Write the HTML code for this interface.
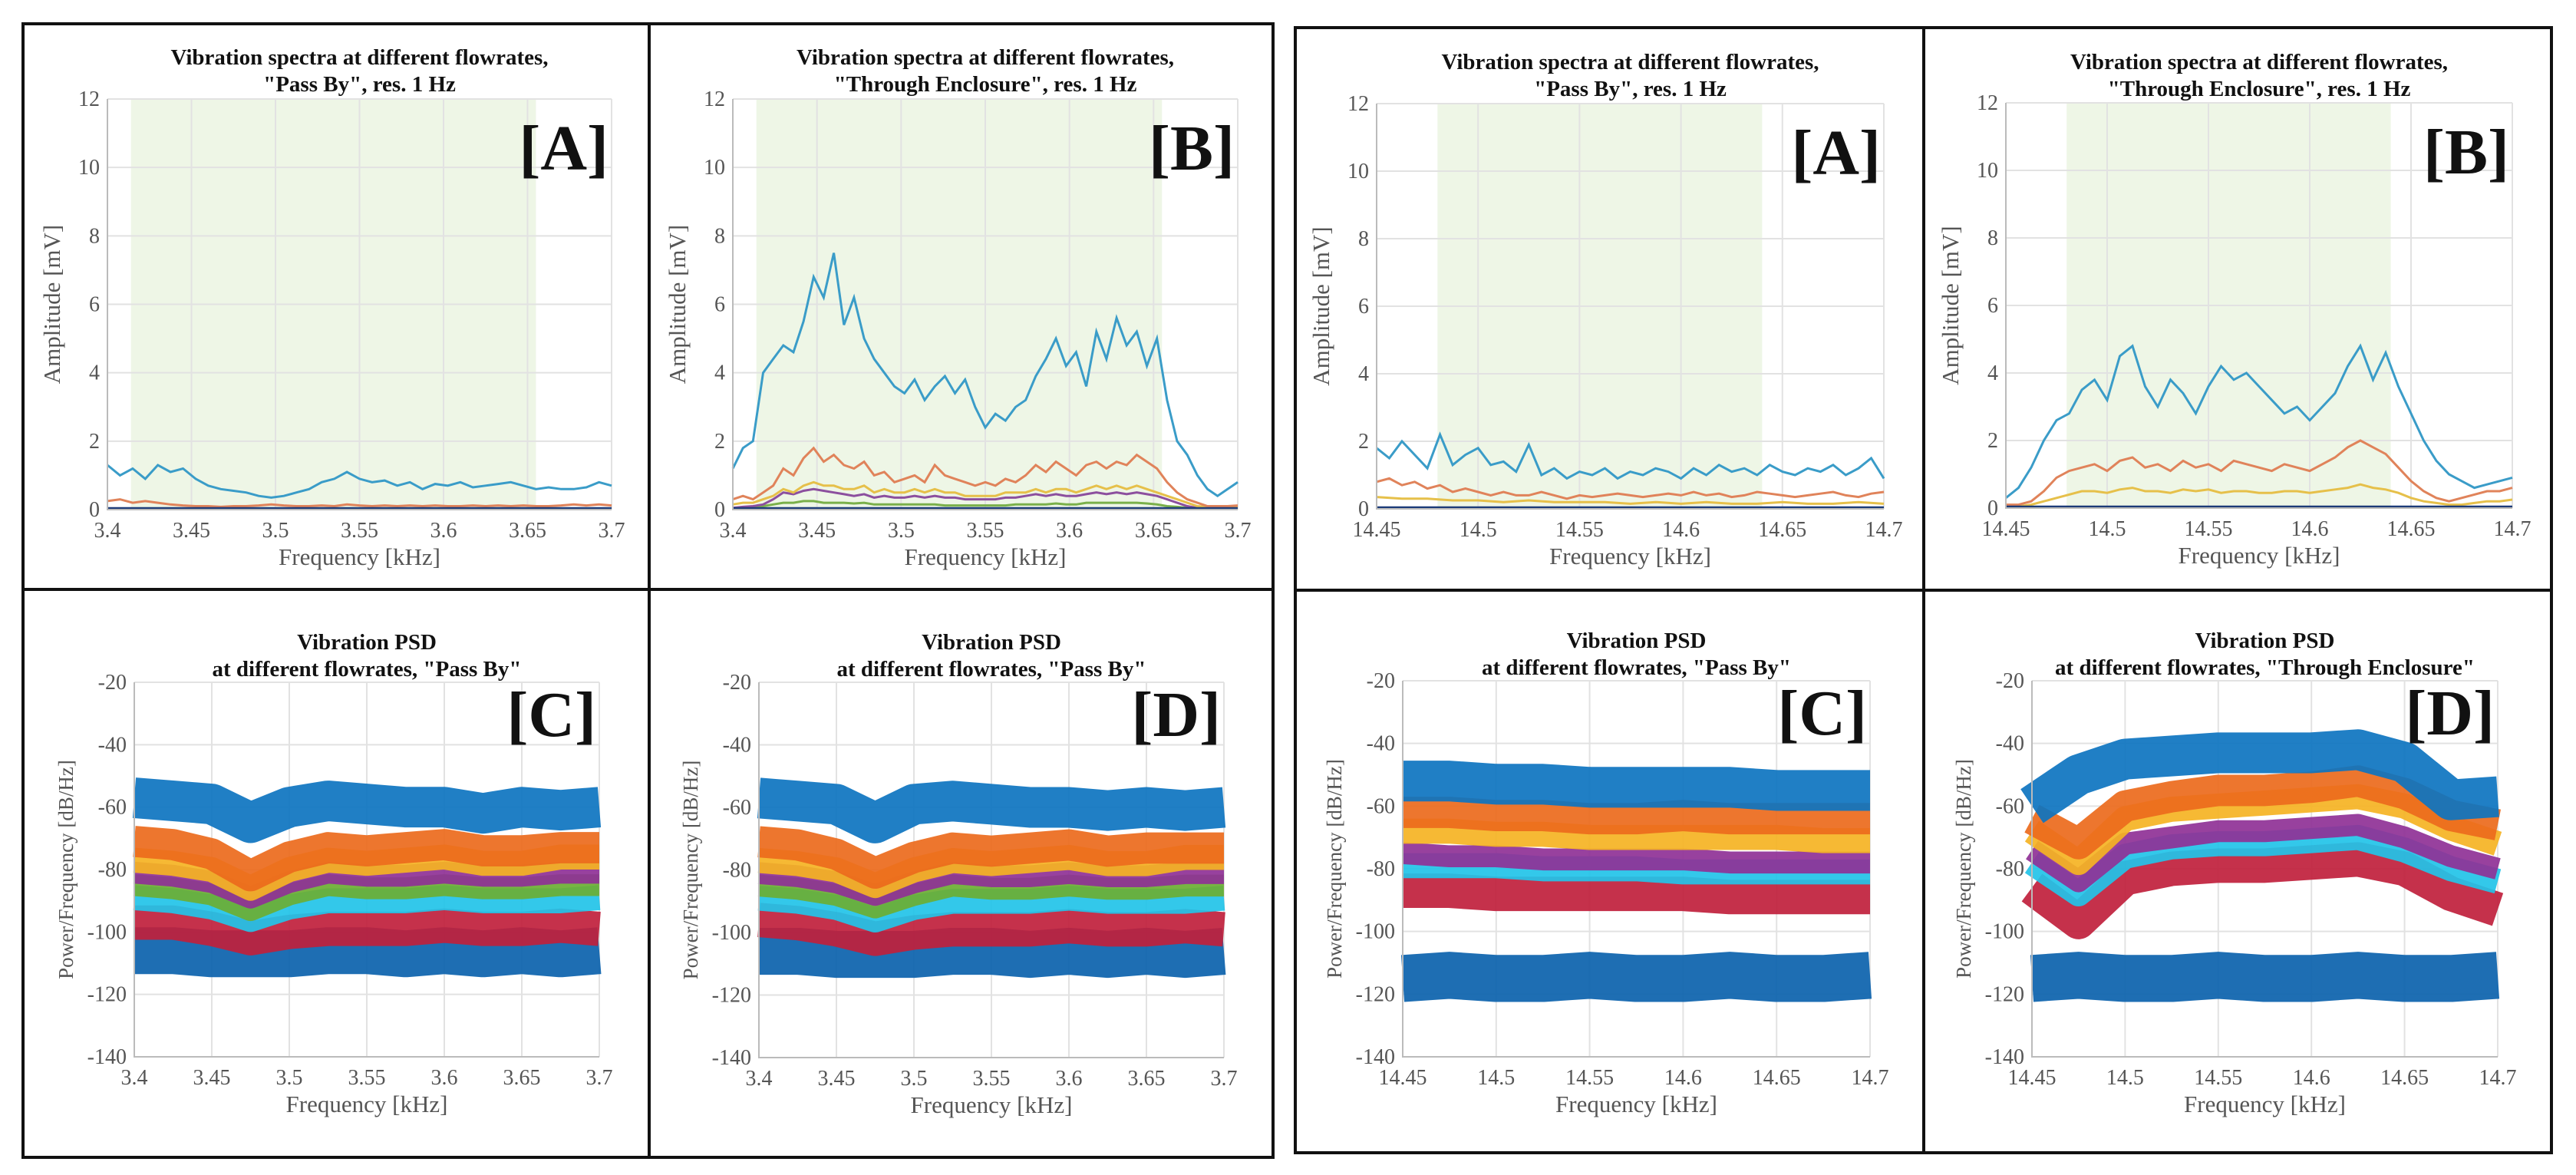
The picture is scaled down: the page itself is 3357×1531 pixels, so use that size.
<!DOCTYPE html>
<html><head><meta charset="utf-8">
<style>
html,body{margin:0;padding:0;background:#fff;}
svg{display:block;}
svg text{font-family:"Liberation Serif","DejaVu Serif",serif;}
</style></head>
<body>
<svg id="fig" width="3357" height="1531" viewBox="0 0 3357 1531" xmlns="http://www.w3.org/2000/svg" font-family="Liberation Serif, serif">
  <rect x="0" y="0" width="3357" height="1531" fill="#fff"/>
  <g id="frames" fill="none" stroke="#111" stroke-width="4">
    <rect x="30" y="31" width="1629" height="1477"/>
    <line x1="846" y1="31" x2="846" y2="1508"/>
    <line x1="30" y1="768" x2="1659" y2="768"/>
    <rect x="1688" y="36" width="1637" height="1466"/>
    <line x1="2507" y1="36" x2="2507" y2="1502"/>
    <line x1="1688" y1="769" x2="3325" y2="769"/>
  </g>
</svg>
<script>
// ---------- DATA ----------
const ampTicks = [0, 2, 4, 6, 8, 10, 12];
const psdTicks = [-140, -120, -100, -80, -60, -40, -20];
const lowFreqTicks = ["3.4", "3.45", "3.5", "3.55", "3.6", "3.65", "3.7"];
const highFreqTicks = ["14.45", "14.5", "14.55", "14.6", "14.65", "14.7"];

// Panel A (3.4-3.7 kHz, Pass By)
const a1Blue = [1.3,1.0,1.2,0.9,1.3,1.1,1.2,0.9,0.7,0.6,0.55,0.5,0.4,0.35,0.4,0.5,0.6,0.8,0.9,1.1,0.9,0.8,0.85,0.7,0.8,0.6,0.75,0.7,0.8,0.65,0.7,0.75,0.8,0.7,0.6,0.65,0.6,0.6,0.65,0.8,0.7];
const a1Orange = [0.25,0.3,0.2,0.25,0.2,0.15,0.12,0.1,0.1,0.08,0.1,0.1,0.12,0.15,0.12,0.1,0.1,0.12,0.1,0.15,0.12,0.1,0.12,0.1,0.12,0.1,0.12,0.1,0.1,0.12,0.1,0.12,0.1,0.12,0.1,0.1,0.12,0.15,0.12,0.15,0.12];
const a1Base = [0.04,0.04,0.04,0.04,0.04,0.04,0.04,0.04,0.04,0.04,0.04];

// Panel B (3.4-3.7 kHz, Through Enclosure)
const b1Blue = [1.2,1.8,2.0,4.0,4.4,4.8,4.6,5.5,6.8,6.2,7.5,5.4,6.2,5.0,4.4,4.0,3.6,3.4,3.8,3.2,3.6,3.9,3.4,3.8,3.0,2.4,2.8,2.6,3.0,3.2,3.9,4.4,5.0,4.2,4.6,3.6,5.2,4.4,5.6,4.8,5.2,4.2,5.0,3.2,2.0,1.6,1.0,0.6,0.4,0.6,0.8];
const b1Orange = [0.3,0.4,0.3,0.5,0.7,1.2,1.0,1.5,1.8,1.4,1.6,1.3,1.2,1.4,1.0,1.1,0.8,0.9,1.0,0.8,1.3,1.0,0.9,0.8,0.7,0.8,0.7,0.9,0.8,1.0,1.3,1.1,1.4,1.2,1.0,1.3,1.4,1.2,1.4,1.3,1.6,1.4,1.2,0.8,0.5,0.3,0.2,0.1,0.1,0.1,0.12];
const b1Yellow = [0.15,0.2,0.2,0.3,0.4,0.6,0.5,0.7,0.8,0.7,0.7,0.6,0.6,0.7,0.5,0.6,0.5,0.5,0.6,0.5,0.6,0.5,0.5,0.4,0.4,0.4,0.4,0.5,0.5,0.5,0.6,0.5,0.6,0.6,0.5,0.6,0.7,0.6,0.7,0.6,0.7,0.6,0.5,0.4,0.3,0.2,0.1,0.08,0.08,0.08,0.08];
const b1Purple = [0.05,0.08,0.1,0.15,0.3,0.5,0.45,0.55,0.6,0.55,0.5,0.45,0.4,0.45,0.35,0.4,0.35,0.35,0.4,0.35,0.4,0.35,0.35,0.3,0.3,0.3,0.3,0.35,0.35,0.4,0.45,0.4,0.45,0.4,0.4,0.45,0.5,0.45,0.5,0.45,0.5,0.45,0.4,0.3,0.2,0.1,0.05,0.04,0.04,0.04,0.04];
const b1Green = [0.05,0.05,0.08,0.1,0.15,0.2,0.2,0.25,0.25,0.2,0.2,0.2,0.18,0.2,0.15,0.15,0.15,0.15,0.15,0.15,0.15,0.12,0.12,0.12,0.12,0.12,0.12,0.12,0.15,0.15,0.15,0.15,0.18,0.15,0.15,0.2,0.2,0.2,0.2,0.2,0.2,0.18,0.15,0.1,0.08,0.05,0.04,0.04,0.04,0.04,0.04];

// Panel A (14.45-14.7 kHz, Pass By)
const a2Blue = [1.8,1.5,2.0,1.6,1.2,2.2,1.3,1.6,1.8,1.3,1.4,1.1,1.9,1.0,1.2,0.9,1.1,1.0,1.2,0.9,1.1,1.0,1.2,1.1,0.9,1.2,1.0,1.3,1.1,1.2,1.0,1.3,1.1,1.0,1.2,1.1,1.3,1.0,1.2,1.5,0.9];
const a2Orange = [0.8,0.9,0.7,0.8,0.6,0.7,0.5,0.6,0.5,0.4,0.5,0.4,0.4,0.5,0.4,0.3,0.4,0.35,0.4,0.45,0.4,0.35,0.4,0.45,0.4,0.5,0.4,0.45,0.35,0.4,0.5,0.45,0.4,0.35,0.4,0.45,0.5,0.4,0.35,0.45,0.5];
const a2Yellow = [0.35,0.3,0.3,0.25,0.25,0.2,0.25,0.2,0.2,0.2,0.15,0.2,0.15,0.2,0.15,0.15,0.2,0.15,0.15,0.2,0.15];

// Panel B (14.45-14.7 kHz, Through Enclosure)
const b2Blue = [0.3,0.6,1.2,2.0,2.6,2.8,3.5,3.8,3.2,4.5,4.8,3.6,3.0,3.8,3.4,2.8,3.6,4.2,3.8,4.0,3.6,3.2,2.8,3.0,2.6,3.0,3.4,4.2,4.8,3.8,4.6,3.6,2.8,2.0,1.4,1.0,0.8,0.6,0.7,0.8,0.9];
const b2Orange = [0.1,0.1,0.2,0.5,0.9,1.1,1.2,1.3,1.1,1.4,1.5,1.2,1.3,1.1,1.4,1.2,1.3,1.1,1.4,1.3,1.2,1.1,1.3,1.2,1.1,1.3,1.5,1.8,2.0,1.8,1.6,1.2,0.8,0.5,0.3,0.2,0.3,0.4,0.5,0.5,0.6];
const b2Yellow = [0.05,0.05,0.1,0.2,0.3,0.4,0.5,0.5,0.45,0.55,0.6,0.5,0.5,0.45,0.55,0.5,0.55,0.45,0.5,0.5,0.45,0.45,0.5,0.5,0.45,0.5,0.55,0.6,0.7,0.6,0.55,0.45,0.3,0.2,0.15,0.1,0.1,0.15,0.2,0.2,0.25];

// PSD panel C (3.4-3.7 kHz), 13 points each
const c1BlueTop = [-57,-58,-59,-65,-60,-58,-59,-60,-60,-62,-60,-61,-60];
const c1Orange = [-71,-72,-75,-82,-76,-73,-74,-73,-72,-74,-74,-73,-73];
const c1Yellow = [-77,-78,-80,-86,-80,-77,-78,-77,-76,-78,-78,-76,-76];
const c1Purple = [-81,-82,-84,-89,-84,-81,-82,-82,-81,-82,-82,-81,-81];
const c1Green = [-85,-86,-88,-93,-88,-85,-86,-86,-85,-86,-86,-85,-85];
const c1Cyan = [-89,-90,-92,-96,-92,-90,-90,-90,-89,-90,-90,-90,-89];
const c1Red = [-97,-97,-99,-102,-100,-99,-99,-99,-98,-99,-99,-98,-99];
const c1BlueLow = [-106,-106,-107,-107,-107,-106,-106,-107,-106,-107,-106,-107,-106];
// PSD panel D (3.4-3.7 kHz)
const d1BlueTop = [-57,-58,-59,-65,-59,-58,-59,-60,-60,-61,-60,-61,-60];
const d1Orange = [-71,-72,-75,-81,-76,-73,-74,-73,-72,-74,-73,-73,-73];
const d1Yellow = [-77,-78,-80,-85,-80,-77,-78,-77,-76,-78,-78,-76,-76];
const d1Purple = [-81,-82,-84,-88,-84,-81,-82,-82,-81,-82,-82,-81,-81];
const d1Green = [-85,-86,-88,-92,-88,-85,-86,-86,-85,-86,-86,-85,-85];
const d1Cyan = [-89,-90,-92,-96,-92,-90,-90,-90,-89,-90,-90,-90,-89];
const d1Red = [-96,-97,-99,-102,-100,-99,-99,-99,-98,-99,-99,-98,-99];
const d1BlueLow = [-106,-106,-107,-107,-107,-106,-106,-107,-106,-107,-106,-107,-106];
// PSD panel C (14.45-14.7 kHz), 11 points
const c2BlueTop = [-52,-52,-53,-53,-54,-54,-54,-54,-55,-55,-55];
const c2Orange = [-62,-62,-63,-63,-64,-64,-63,-64,-64,-64,-64];
const c2Yellow = [-68,-68,-69,-69,-70,-70,-70,-70,-70,-71,-71];
const c2Purple = [-75,-76,-76,-77,-77,-77,-77,-78,-78,-78,-78];
const c2Cyan = [-79,-79,-79,-80,-80,-80,-81,-81,-81,-81,-81];
const c2Red = [-87,-87,-88,-88,-88,-88,-88,-89,-89,-89,-89];
const c2BlueLow = [-115,-114,-115,-115,-114,-115,-115,-114,-115,-115,-114];
// PSD panel D (14.45-14.7 kHz), 11 points
const d2BlueTop = [-60,-50,-45,-44,-43,-43,-43,-42,-46,-58,-57];
const d2Orange = [-64,-72,-60,-57,-55,-55,-54,-52,-56,-63,-66];
const d2Yellow = [-68,-78,-64,-61,-60,-59,-58,-57,-60,-67,-72];
const d2Purple = [-74,-84,-72,-70,-68,-68,-67,-66,-70,-76,-80];
const d2Cyan = [-78,-88,-76,-73,-72,-72,-71,-70,-74,-80,-84];
const d2Red = [-86,-97,-83,-80,-79,-79,-78,-77,-80,-88,-93];
const d2BlueLow = [-115,-114,-115,-115,-114,-115,-115,-114,-115,-115,-114];

// ---------- DRAWING ----------
const NS = "http://www.w3.org/2000/svg";
const svg = document.getElementById("fig");
const SERIF = "Liberation Serif, DejaVu Serif, serif";
function mk(tag, attrs, parent) {
  const e = document.createElementNS(NS, tag);
  for (const k in attrs) e.setAttribute(k, attrs[k]);
  if (tag === "text") e.setAttribute("font-family", SERIF);
  (parent || svg).appendChild(e);
  return e;
}

function drawPanel(p) {
  const g = mk("g", {});
  
  
  const xs = v => p.x0 + (v - p.xmin) / (p.xmax - p.xmin) * (p.x1 - p.x0);
  const ys = v => p.y1 - (v - p.ymin) / (p.ymax - p.ymin) * (p.y1 - p.y0);
  if (p.band) {
    const r = mk("rect", {x: xs(p.band[0]), y: p.y0, width: xs(p.band[1]) - xs(p.band[0]), height: p.y1 - p.y0, fill: "#eef6e6"}, g);
    
    
  }
  p.yticks.forEach(t => {
    const l = mk("line", {x1: p.x0, x2: p.x1, y1: ys(t), y2: ys(t), stroke: "#e2e2e2", "stroke-width": 2}, g);
    
    
    const tx = mk("text", {x: p.x0 - 10, y: ys(t) + 9, "text-anchor": "end", "font-size": 28, fill: "#555"}, g);
    tx.textContent = t;
    
    
  });
  p.xticks.forEach(s => {
    const v = parseFloat(s);
    const l = mk("line", {x1: xs(v), x2: xs(v), y1: p.y0, y2: p.y1, stroke: "#e2e2e2", "stroke-width": 2}, g);
    
    
    const tx = mk("text", {x: xs(v), y: p.y1 + 36, "text-anchor": "middle", "font-size": 28, fill: "#555"}, g);
    tx.textContent = s;
    
    
  });
  (p.bands || []).forEach(b => {
    const pts = b.vals.map((v, i) => xs(p.xmin + i / (b.vals.length - 1) * (p.xmax - p.xmin)).toFixed(1) + "," + ys(v).toFixed(1)).join(" ");
    const pl = mk("polyline", {points: pts, fill: "none", stroke: b.color, "stroke-width": b.w * (p.y1 - p.y0) / (p.ymax - p.ymin), "stroke-linejoin": "round", opacity: 0.92}, g);
    
    
  });
  (p.series || []).forEach(s => {
    const pts = s.vals.map((v, i) => xs(p.xmin + i / (s.vals.length - 1) * (p.xmax - p.xmin)).toFixed(1) + "," + ys(v).toFixed(1)).join(" ");
    const pl = mk("polyline", {points: pts, fill: "none", stroke: s.color, "stroke-width": s.sw || 3}, g);
    
    
  });
  const ax = mk("path", {d: `M${p.x0},${p.y0} V${p.y1} H${p.x1}`, fill: "none", stroke: "#bbb", "stroke-width": 2}, g);
  
  
  const cx = (p.x0 + p.x1) / 2;
  p.title.forEach((t, i) => {
    const tt = mk("text", {x: cx, y: p.ty + i * 35, "text-anchor": "middle", "font-size": 29, "font-weight": "bold", fill: "#111"}, g);
    tt.textContent = t;
    
    
  });
  const lb = mk("text", {x: p.x1 - 4, y: p.y0 + p.labDy, "text-anchor": "end", "font-size": 84, "font-weight": "bold", fill: "#111"}, g);
  lb.textContent = p.label;
  
  
  const xl = mk("text", {x: cx, y: p.y1 + 72, "text-anchor": "middle", "font-size": 31, fill: "#555"}, g);
  xl.textContent = "Frequency [kHz]";
  
  
  const ylx = p.x0 - p.ylOff, yly = (p.y0 + p.y1) / 2;
  const yl = mk("text", {x: ylx, y: yly, "text-anchor": "middle", "font-size": p.ylSize, fill: "#555", transform: `rotate(-90 ${ylx} ${yly})`}, g);
  yl.textContent = p.ylabel;
  
  
}

const C = {blue: "#3a9cc8", orange: "#e0835a", yellow: "#e6c04a", purple: "#8c4f9e", green: "#7ab04a", navy: "#1c3b78"};
const P = {blue: "#0d74c0", orange: "#ec6a1c", yellow: "#f5b323", purple: "#8f3196", green: "#6bae33", cyan: "#22c3e8", red: "#c0203c", dblue: "#0b62ad"};
const ampLab = "Amplitude [mV]", psdLab = "Power/Frequency [dB/Hz]";

const top1 = ["Vibration spectra at different flowrates,", "\"Pass By\", res. 1 Hz"];
const top2 = ["Vibration spectra at different flowrates,", "\"Through Enclosure\", res. 1 Hz"];

drawPanel({name: "panel-a-low", x0: 140, x1: 797, y0: 129, y1: 664, xmin: 3.4, xmax: 3.7, ymin: 0, ymax: 12, band: [3.414, 3.655],
  yticks: ampTicks, xticks: lowFreqTicks, title: top1, ty: 84, label: "[A]", labDy: 92, ylabel: ampLab, ylOff: 62, ylSize: 31,
  series: [{name: "series-1", vals: a1Orange, color: C.orange}, {name: "series-base", vals: a1Base, color: C.navy}, {name: "series-0", vals: a1Blue, color: C.blue}]});
drawPanel({name: "panel-b-low", x0: 955, x1: 1613, y0: 129, y1: 664, xmin: 3.4, xmax: 3.7, ymin: 0, ymax: 12, band: [3.414, 3.655],
  yticks: ampTicks, xticks: lowFreqTicks, title: top2, ty: 84, label: "[B]", labDy: 92, ylabel: ampLab, ylOff: 62, ylSize: 31,
  series: [{name: "series-green", vals: b1Green, color: C.green}, {name: "series-purple", vals: b1Purple, color: C.purple}, {name: "series-yellow", vals: b1Yellow, color: C.yellow}, {name: "series-orange", vals: b1Orange, color: C.orange}, {name: "series-base", vals: a1Base, color: C.navy}, {name: "series-blue", vals: b1Blue, color: C.blue}]});
drawPanel({name: "panel-a-high", x0: 1794, x1: 2455, y0: 135, y1: 663, xmin: 14.45, xmax: 14.7, ymin: 0, ymax: 12, band: [14.48, 14.64],
  yticks: ampTicks, xticks: highFreqTicks, title: top1, ty: 90, label: "[A]", labDy: 92, ylabel: ampLab, ylOff: 62, ylSize: 31,
  series: [{name: "series-yellow", vals: a2Yellow, color: C.yellow}, {name: "series-orange", vals: a2Orange, color: C.orange}, {name: "series-base", vals: a1Base, color: C.navy}, {name: "series-blue", vals: a2Blue, color: C.blue}]});
drawPanel({name: "panel-b-high", x0: 2614, x1: 3274, y0: 134, y1: 662, xmin: 14.45, xmax: 14.7, ymin: 0, ymax: 12, band: [14.48, 14.64],
  yticks: ampTicks, xticks: highFreqTicks, title: top2, ty: 90, label: "[B]", labDy: 92, ylabel: ampLab, ylOff: 62, ylSize: 31,
  series: [{name: "series-yellow", vals: b2Yellow, color: C.yellow}, {name: "series-orange", vals: b2Orange, color: C.orange}, {name: "series-base", vals: a1Base, color: C.navy}, {name: "series-blue", vals: b2Blue, color: C.blue}]});

function bandsFor(bt, o, y, pu, gr, cy, r, bl) {
  const arr = [
    {name: "band-blue-low", vals: bl, color: P.dblue, w: 15},
    {name: "band-red", vals: r, color: P.red, w: 11},
    {name: "band-cyan", vals: cy, color: P.cyan, w: 8},
  ];
  if (gr) arr.push({name: "band-green", vals: gr, color: P.green, w: 7});
  arr.push({name: "band-purple", vals: pu, color: P.purple, w: 7});
  arr.push({name: "band-yellow", vals: y, color: P.yellow, w: 8});
  arr.push({name: "band-orange", vals: o, color: P.orange, w: 10});
  arr.push({name: "band-blue-top", vals: bt, color: P.blue, w: 13});
  return arr;
}
const psd1 = ["Vibration PSD", "at different flowrates, \"Pass By\""];
const psd2 = ["Vibration PSD", "at different flowrates, \"Through Enclosure\""];

drawPanel({name: "panel-c-low", x0: 175, x1: 781, y0: 889, y1: 1377, xmin: 3.4, xmax: 3.7, ymin: -140, ymax: -20,
  yticks: psdTicks, xticks: lowFreqTicks, title: psd1, ty: 846, label: "[C]", labDy: 70, ylabel: psdLab, ylOff: 80, ylSize: 27,
  bands: bandsFor(c1BlueTop, c1Orange, c1Yellow, c1Purple, c1Green, c1Cyan, c1Red, c1BlueLow)});
drawPanel({name: "panel-d-low", x0: 989, x1: 1595, y0: 889, y1: 1378, xmin: 3.4, xmax: 3.7, ymin: -140, ymax: -20,
  yticks: psdTicks, xticks: lowFreqTicks, title: psd1, ty: 846, label: "[D]", labDy: 70, ylabel: psdLab, ylOff: 80, ylSize: 27,
  bands: bandsFor(d1BlueTop, d1Orange, d1Yellow, d1Purple, d1Green, d1Cyan, d1Red, d1BlueLow)});
drawPanel({name: "panel-c-high", x0: 1828, x1: 2437, y0: 887, y1: 1377, xmin: 14.45, xmax: 14.7, ymin: -140, ymax: -20,
  yticks: psdTicks, xticks: highFreqTicks, title: psd1, ty: 844, label: "[C]", labDy: 70, ylabel: psdLab, ylOff: 80, ylSize: 27,
  bands: bandsFor(c2BlueTop, c2Orange, c2Yellow, c2Purple, null, c2Cyan, c2Red, c2BlueLow)});
drawPanel({name: "panel-d-high", x0: 2648, x1: 3255, y0: 887, y1: 1377, xmin: 14.45, xmax: 14.7, ymin: -140, ymax: -20,
  yticks: psdTicks, xticks: highFreqTicks, title: psd2, ty: 844, label: "[D]", labDy: 70, ylabel: psdLab, ylOff: 80, ylSize: 27,
  bands: bandsFor(d2BlueTop, d2Orange, d2Yellow, d2Purple, null, d2Cyan, d2Red, d2BlueLow)});

svg.appendChild(document.getElementById("frames"));
</script>
</body></html>
